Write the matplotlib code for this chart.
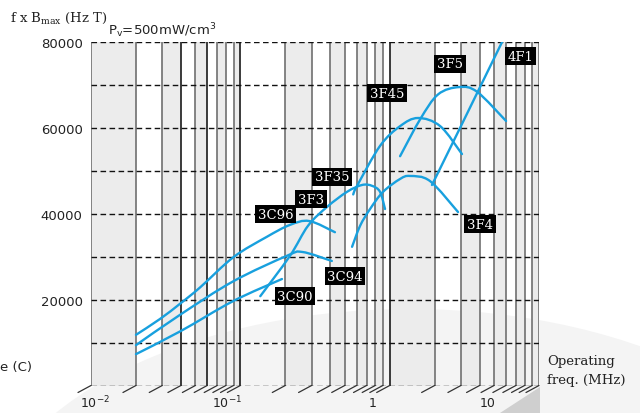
import numpy as np
import matplotlib
matplotlib.use("Agg")
import matplotlib.pyplot as plt
from matplotlib.patches import Ellipse, Polygon, PathPatch
from matplotlib.path import Path
from matplotlib.transforms import ScaledTranslation

# ---------------- data (frequency in MHz, f x Bmax in Hz T) ----------------
f_3C96 = [0.02, 0.029, 0.04, 0.054, 0.09, 0.15, 0.215, 0.29, 0.43]
v_3C96 = [11800, 15500, 19200, 22900, 29900, 34600, 37400, 38300, 35700]

f_3C94 = [0.02, 0.04, 0.09, 0.205, 0.26, 0.41]
v_3C94 = [9400, 16600, 24300, 30200, 31100, 29000]

f_3C90 = [0.02, 0.04, 0.09, 0.19]
v_3C90 = [7300, 12700, 19700, 24800]

f_3F3 = [0.136, 0.215, 0.284, 0.381, 0.518, 0.653, 0.762, 0.862, 0.931]
v_3F3 = [20800, 30200, 37200, 41600, 45100, 46700, 46500, 45100, 41100]

f_3F4 = [0.56, 0.634, 0.739, 0.903, 1.174, 1.37, 1.865, 2.87]
v_3F4 = [32300, 37200, 41100, 45100, 48100, 48800, 47600, 40400]

f_3F45 = [0.57, 0.605, 0.862, 1.174, 1.55, 2.18, 3.05]
v_3F45 = [44500, 46500, 55800, 60400, 62300, 60400, 53900]

f_3F5 = [1.174, 1.60, 2.11, 2.92, 3.85, 6.02]
v_3F5 = [53400, 62000, 67800, 69500, 68400, 61600]

f_4F1 = [1.92, 2.66, 3.85, 5.66, 6.5]
v_4F1 = [46700, 56700, 68100, 80000, 84200]

series = [
    (f_3C96, v_3C96), (f_3C94, v_3C94), (f_3C90, v_3C90), (f_3F3, v_3F3),
    (f_3F4, v_3F4), (f_3F45, v_3F45), (f_3F5, v_3F5), (f_4F1, v_4F1),
]

label_names = ["3C96", "3F3", "3F35", "3C90", "3C94", "3F45", "3F5", "4F1", "3F4"]
label_f = [0.173, 0.297, 0.411, 0.2325, 0.503, 0.961, 2.54, 7.47, 4.03]
label_v = [39900, 43400, 48600, 20800, 25500, 68100, 74900, 76700, 37600]

y_ticks = [20000, 40000, 60000, 80000]
y_tick_labels = ["20000", "40000", "60000", "80000"]
x_ticks = [0.01, 0.1, 1, 10]
x_tick_labels = ["10$^{-2}$", "10$^{-1}$", "1", "10"]

# ---------------- figure ----------------
W, H = 640, 414
fig = plt.figure(figsize=(W / 100, H / 100), dpi=100)

# background decoration
bg = fig.add_axes([0, 0, 1, 1], zorder=0)
bg.set_xlim(0, W)
bg.set_ylim(H, 0)
bg.axis("off")
bg.add_patch(Ellipse((410, 550), 860, 480, facecolor="#f4f4f4", edgecolor="none"))
bg.add_patch(Polygon([(500, 414), (540, 388), (540, 414)], closed=True,
                     facecolor="#cfcfcf", edgecolor="none"))

left, right = 91 / W, 539 / W
bottom, top = 1 - 386.5 / H, 1 - 43 / H
ax = fig.add_axes([left, bottom, right - left, top - bottom], zorder=1)
ax.set_facecolor("none")
ax.set_xscale("log")
ax.set_xlim(0.01, 10)
ax.set_ylim(0, 80000)
for s in ax.spines.values():
    s.set_visible(False)

# shaded bands
decades = [0.01, 0.1, 1]
shade_idx = {0.01: [1, 3, 5, 7, 9], 0.1: [2, 4, 6, 8], 1: [1, 3, 5, 7, 9]}
for d in decades:
    for k in shade_idx[d]:
        ax.axvspan(k * d, (k + 1) * d, color="#ececec", lw=0, zorder=0.5)

# vertical grid lines and floor ticks
xs = [k * d for d in decades for k in range(1, 10)] + [10]
for i, x in enumerate(xs):
    col = "#1a1a1a" if i in (3, 5, 9, 18) else "#707070"
    ax.axvline(x, color=col, lw=1.2, zorder=1)
    ax.annotate("", xy=(x, 0), xycoords="data", xytext=(-13, -7),
                textcoords="offset pixels",
                arrowprops=dict(arrowstyle="-", color="#333333", lw=0.9,
                                shrinkA=0, shrinkB=0),
                annotation_clip=False)

# horizontal dashed lines
for yv in range(0, 80001, 10000):
    ax.axhline(yv, color="#111111", lw=1.0, ls=(0, (4, 2.5)), zorder=1.2)


# smooth curves drawn through the read points (Catmull-Rom as cubic Bezier)
def smooth_path(fx, vy):
    u = np.log10(np.asarray(fx, float)) * 149.3
    w = np.asarray(vy, float) / 232.9
    P = np.column_stack([u, w])
    n = len(P)
    verts = [P[0]]
    codes = [Path.MOVETO]
    for i in range(n - 1):
        p0 = P[i - 1] if i > 0 else P[i]
        p1 = P[i]
        p2 = P[i + 1]
        p3 = P[i + 2] if i + 2 < n else P[i + 1]
        c1 = p1 + (p2 - p0) / 6.0
        c2 = p2 - (p3 - p1) / 6.0
        verts += [c1, c2, p2]
        codes += [Path.CURVE4] * 3
    V = np.array(verts)
    V[:, 0] = 10 ** (V[:, 0] / 149.3)
    V[:, 1] = V[:, 1] * 232.9
    return Path(V, codes)


for fx, vy in series:
    ax.add_patch(PathPatch(smooth_path(fx, vy), facecolor="none", edgecolor="#18a0de",
                           lw=1.7, zorder=3, capstyle="round"))

# labels in black boxes
for name, fx, vy in zip(label_names, label_f, label_v):
    ax.text(fx, vy, name, color="white", fontsize=9.5, family="DejaVu Serif",
            ha="center", va="center", zorder=5,
            bbox=dict(boxstyle="square,pad=0.2", facecolor="black", edgecolor="none"))

# ticks
ax.set_yticks(y_ticks)
ax.set_yticklabels(y_tick_labels, fontsize=9.5, family="DejaVu Sans", color="#222222")
ax.tick_params(axis="y", length=0, pad=6)
ax.set_xticks(x_ticks)
ax.set_xticklabels(x_tick_labels, fontsize=9, family="DejaVu Sans", color="#222222")
ax.minorticks_off()
ax.tick_params(axis="x", length=0, pad=6)
offsets = [(4, 0), (-13, 0), (-17, -2), (-51, -2)]
for lab, (dx, dy) in zip(ax.get_xticklabels(), offsets):
    lab.set_transform(lab.get_transform() + ScaledTranslation(dx / 100, dy / 100, fig.dpi_scale_trans))

# titles / axis texts
fig.text(10 / W, 1 - 18 / H, "f x B$_{\\mathregular{max}}$ (Hz T)", fontsize=9.5,
         family="DejaVu Serif", va="center", ha="left", color="#222222")
fig.text(108 / W, 1 - 31 / H, "P$_{\\mathregular{v}}$=500mW/cm$^{\\mathregular{3}}$", fontsize=9.5,
         family="DejaVu Sans", va="center", ha="left", color="#222222")
fig.text(547 / W, 1 - 362 / H, "Operating", fontsize=9.5, family="DejaVu Serif",
         va="center", ha="left", color="#222222")
fig.text(547 / W, 1 - 381 / H, "freq. (MHz)", fontsize=9.5, family="DejaVu Serif",
         va="center", ha="left", color="#222222")
fig.text(0 / W, 1 - 368 / H, "e (C)", fontsize=9.5, family="DejaVu Sans",
         va="center", ha="left", color="#222222")

fig.savefig("out.png", dpi=100)
